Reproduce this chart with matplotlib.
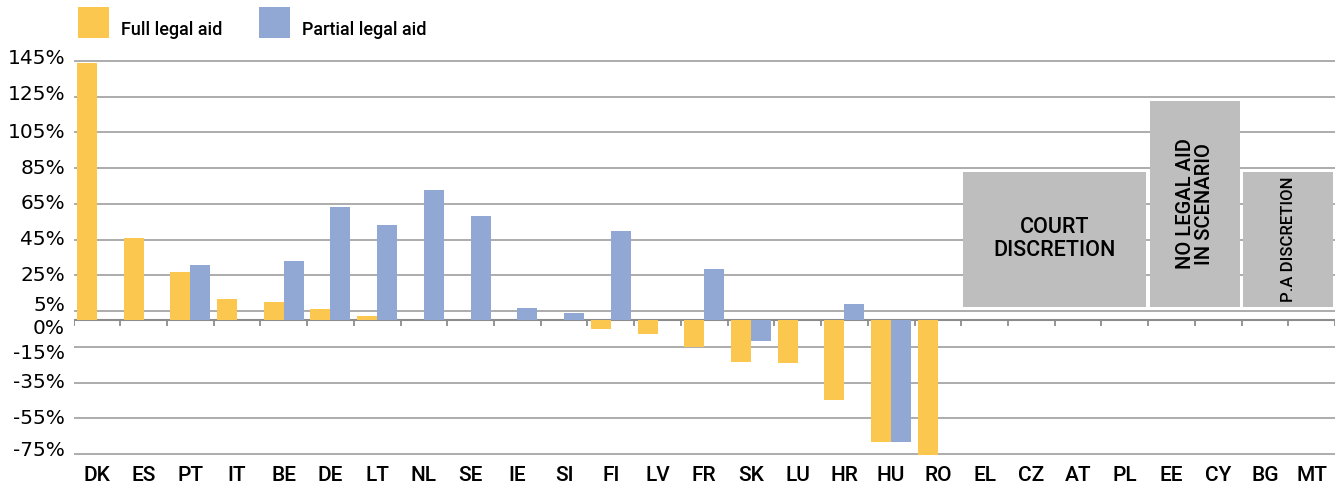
import matplotlib
matplotlib.use("Agg")
import matplotlib.pyplot as plt
import matplotlib.transforms as mtransforms
import numpy as np

# ── Дані ────────────────────────────────────────────────
countries = ["DK", "ES", "PT", "IT", "BE", "DE", "LT", "NL", "SE", "IE", "SI", "FI",
             "LV", "FR", "SK", "LU", "HR", "HU", "RO", "EL", "CZ", "AT", "PL", "EE",
             "CY", "BG", "MT"]
nan = np.nan
full_aid = [144, 46, 27, 12, 10, 6, 2, nan, nan, nan, nan, -5,
            -8, -15, -23.5, -24, -45, -68, -75.5, nan, nan, nan, nan, nan,
            nan, nan, nan]
partial_aid = [nan, nan, 31, nan, 33, 63, 53, 73, 58, 7, 4, 50,
               nan, 28.5, -12, nan, 9, -68, nan, nan, nan, nan, nan, nan,
               nan, nan, nan]

y_ticks = [145, 125, 105, 85, 65, 45, 25, 5, -15, -35, -55, -75]
y_labels = [145, 125, 105, 85, 65, 45, 25, 5, 0, -15, -35, -55, -75]

box_texts = ["COURT\nDISCRETION", "NO LEGAL AID\nIN SCENARIO", "P.A DISCRETION"]
box_groups = [["EL", "CZ", "AT", "PL"], ["EE", "CY"], ["BG", "MT"]]
box_top = [83, 122.5, 83]
box_base = 7.5

# ── Стиль ───────────────────────────────────────────────
YELLOW = "#FCC74E"
BLUE = "#91A8D4"
GREY_BOX = "#BEBEBE"
GRID = "#A6A6A6"
FONT = "Roboto"

fig = plt.figure(figsize=(13.38, 4.9), dpi=100)
W, H = 1338, 490
ax = fig.add_axes([73.5 / W, 1 - 455.9 / H, (1335 - 73.5) / W, (455.9 - 57.2) / H])

x = np.arange(len(countries))
bw = 0.428
b_full = ax.bar(x - bw / 2, np.array(full_aid, dtype=float), width=bw,
                color=YELLOW, zorder=3)
b_part = ax.bar(x + bw / 2, np.array(partial_aid, dtype=float), width=bw,
                color=BLUE, zorder=3)

# сірі блоки для країн без даних
idx = {c: i for i, c in enumerate(countries)}
for txt, grp, top in zip(box_texts, box_groups, box_top):
    pos = [idx[c] for c in grp]
    centre = (min(pos) + max(pos)) / 2
    ax.bar(centre, top - box_base, bottom=box_base, width=len(grp) - 0.07,
           color=GREY_BOX, zorder=4)
    mid = (top + box_base) / 2
    if len(grp) > 2:
        ax.text(centre, mid, txt, ha="center", va="center", fontsize=15.5,
                family=FONT, fontweight="medium", linespacing=1.1, zorder=5)
    else:
        fs = 14.5 if "\n" in txt else 12
        ax.text(centre, mid, txt, ha="center", va="center", fontsize=fs,
                family=FONT, fontweight="medium", rotation=90,
                linespacing=1.0, zorder=5)

ax.set_xlim(-0.5, len(countries) - 0.5)
ax.set_ylim(-76, 147)

# сітка та вісь нуля
ax.set_yticks(y_ticks)
ax.yaxis.grid(True, color=GRID, lw=1.3, zorder=1)
ax.tick_params(axis="y", length=0, labelleft=False)
ax.axhline(0, color="#8C8C8C", lw=1.5, zorder=2)
edges = np.arange(len(countries) + 1) - 0.5
ax.vlines(edges, -3.2, 0, color="#8C8C8C", lw=1.3, zorder=2)

for sp in ax.spines.values():
    sp.set_visible(False)

ax.set_xticks(x)
ax.set_xticklabels(countries, family=FONT, fontweight="medium", fontsize=15)
ax.tick_params(axis="x", length=0, pad=7)

# підписи осі Y (з невеликими зсувами, як в оригіналі)
nudge = {145: -2, 125: -2, 5: -5.5, 0: 8, -15: 7, -75: -4}
ytrans = ax.get_yaxis_transform()
for v in y_labels:
    tr = mtransforms.offset_copy(ytrans, fig=fig, x=-8.5, y=-nudge.get(v, 0), units="dots")
    ax.text(0, v, f"{v}%", transform=tr, ha="right", va="center",
            fontsize=14.5, family="DejaVu Sans")

leg = fig.legend(handles=[b_full, b_part], labels=["Full legal aid", "Partial legal aid"],
                 loc="upper left", bbox_to_anchor=(77.7 / W, 1 - 6.7 / H), ncol=2,
                 frameon=False, borderpad=0, borderaxespad=0,
                 handlelength=1.72, handleheight=2.27, handletextpad=0.67,
                 columnspacing=2.05, prop={"family": FONT, "weight": "medium", "size": 13})
# текст легенди трохи нижче за центр квадрата
for t in leg.get_texts():
    t.set_y(-7)

fig.savefig("out.png", dpi=100)
